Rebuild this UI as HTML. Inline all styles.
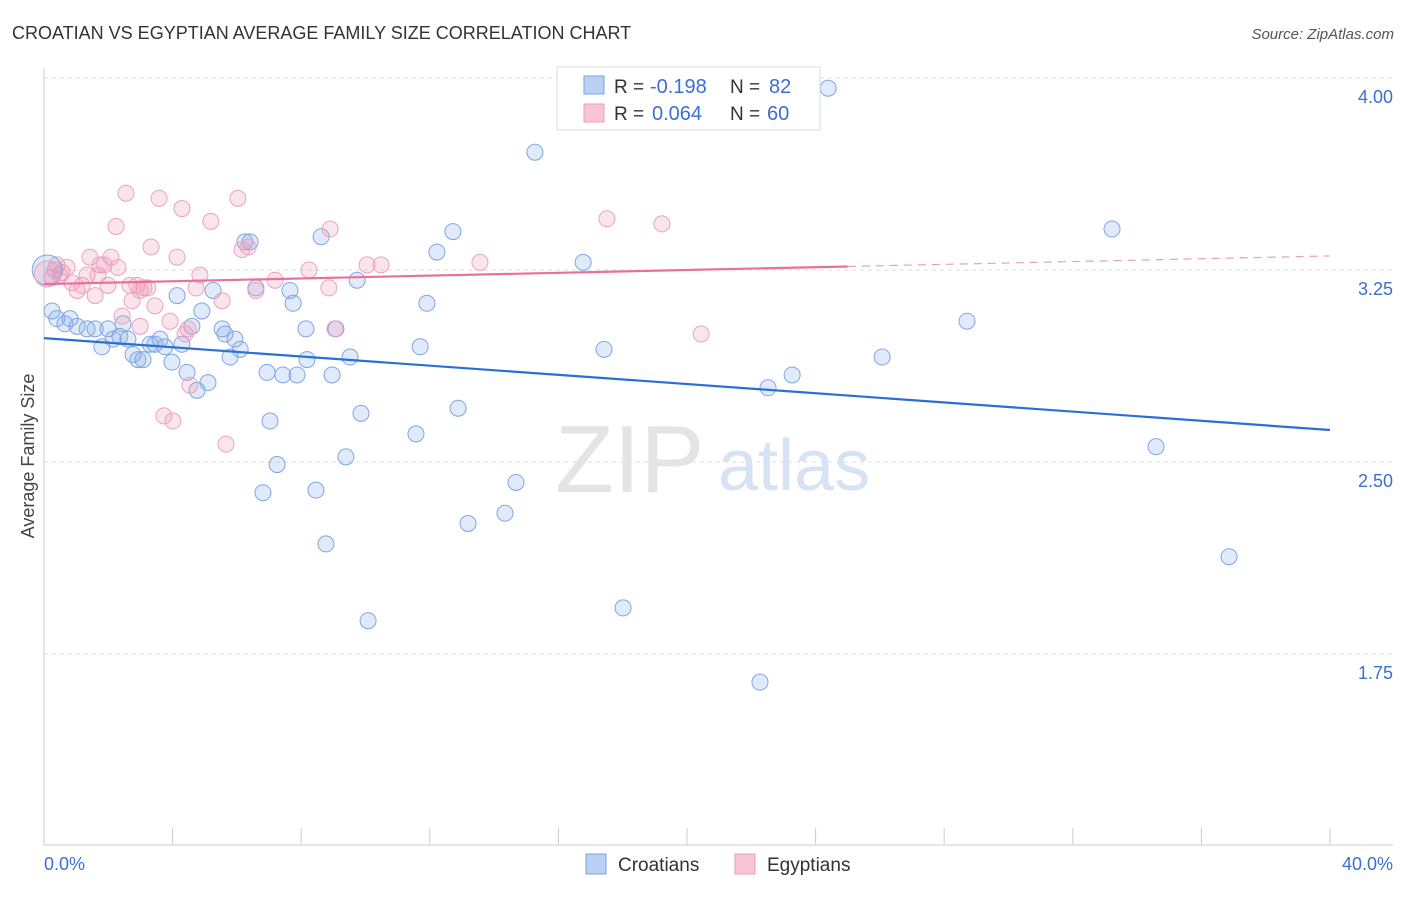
<!DOCTYPE html>
<html><head><meta charset="utf-8"><style>
body{margin:0;background:#fff;font-family:"Liberation Sans",sans-serif}
svg text{font-family:"Liberation Sans",sans-serif}
</style></head><body>
<svg id="chart" width="1406" height="892" xmlns="http://www.w3.org/2000/svg">
<text x="12" y="39" font-size="18" fill="#333">CROATIAN VS EGYPTIAN AVERAGE FAMILY SIZE CORRELATION CHART</text>
<text x="1394" y="39" font-size="15" fill="#555" text-anchor="end" font-style="italic">Source: ZipAtlas.com</text>
<g id="grid"></g>
<g>
<text x="555" y="492" font-size="96" font-family="Liberation Serif" fill="#e4e4e4">ZIP</text>
<text x="718" y="490" font-size="72" fill="#d6e3f5">atlas</text>
</g>
<g id="marks"></g>
<text transform="translate(34,456) rotate(-90)" font-size="18" fill="#444" text-anchor="middle">Average Family Size</text>
<text x="44" y="870" font-size="18" fill="#3a70d0">0.0%</text>
<text x="1393" y="870" font-size="18" fill="#3a70d0" text-anchor="end">40.0%</text>
<g>
<rect x="557" y="67" width="263" height="63" fill="#fff" stroke="#ddd"/>
<rect x="584" y="76" width="20" height="18" fill="#b9d0f3" stroke="#7aa3e0"/>
<rect x="584" y="104" width="20" height="18" fill="#f9c4d4" stroke="#e8a0b8"/>
<text x="614" y="93" font-size="19" fill="#333">R =</text>
<text x="650" y="93" font-size="20" fill="#3a70d0">-0.198</text>
<text x="730" y="93" font-size="19" fill="#333">N =</text>
<text x="769" y="93" font-size="20" fill="#3a70d0">82</text>
<text x="614" y="120" font-size="19" fill="#333">R =</text>
<text x="652" y="120" font-size="20" fill="#3a70d0">0.064</text>
<text x="730" y="120" font-size="19" fill="#333">N =</text>
<text x="767" y="120" font-size="20" fill="#3a70d0">60</text>
</g>
<g>
<rect x="586" y="854" width="20" height="20" fill="#b9d0f3" stroke="#7aa3e0"/>
<text x="618" y="871" font-size="19" fill="#333">Croatians</text>
<rect x="735" y="854" width="20" height="20" fill="#f9c4d4" stroke="#e8a0b8"/>
<text x="767" y="871" font-size="19" fill="#333">Egyptians</text>
</g>
</svg>
<script>
const yTicks=[4.00,3.25,2.50,1.75];
const yTickLabels=["4.00","3.25","2.50","1.75"];
const xTicks=[0,4,8,12,16,20,24,28,32,36,40];
const croX=[0.25,0.40,0.65,0.81,1.03,1.34,1.59,1.80,1.99,2.15,2.36,2.46,2.61,2.77,2.92,3.08,3.30,3.45,3.61,3.76,3.98,4.14,4.29,4.45,4.60,4.76,4.91,5.10,5.26,5.54,5.63,5.79,5.94,6.10,6.25,6.41,6.59,6.81,6.94,7.03,7.25,7.43,7.65,7.75,7.87,8.15,8.18,8.46,8.62,8.77,8.96,9.08,9.52,9.74,9.86,10.08,11.57,11.70,11.91,12.22,12.72,12.88,13.19,14.34,14.68,15.27,16.77,17.42,18.01,22.27,22.52,23.27,24.39,26.07,28.71,33.22,34.59,36.86,9.39];
const croY=[3.09,3.06,3.04,3.06,3.03,3.02,3.02,2.95,3.02,2.98,2.99,3.04,2.98,2.92,2.90,2.90,2.96,2.96,2.98,2.95,2.89,3.15,2.96,2.85,3.03,2.78,3.09,2.81,3.17,3.02,3.00,2.91,2.98,2.94,3.36,3.36,3.18,2.38,2.85,2.66,2.49,2.84,3.17,3.12,2.84,3.02,2.90,2.39,3.38,2.18,2.84,3.02,2.91,3.21,2.69,1.88,2.61,2.95,3.12,3.32,3.40,2.71,2.26,2.30,2.42,3.71,3.28,2.94,1.93,1.64,2.79,2.84,3.96,2.91,3.05,3.41,2.56,2.13,2.52];
const egyX=[0.25,0.40,0.56,0.72,0.87,1.03,1.18,1.34,1.43,1.59,1.74,1.87,1.99,2.08,2.24,2.30,2.43,2.55,2.67,2.74,2.89,2.99,3.11,3.23,3.33,3.45,3.58,3.73,3.92,4.01,4.14,4.29,4.39,4.48,4.54,4.73,4.85,5.19,5.54,5.66,6.03,6.16,6.35,6.59,7.19,8.24,8.90,8.86,9.05,10.05,10.48,13.56,17.51,19.22,20.44,0.50,1.68,0.34,2.99];
const egyY=[3.22,3.27,3.24,3.26,3.20,3.17,3.19,3.23,3.30,3.15,3.27,3.27,3.19,3.30,3.42,3.26,3.07,3.55,3.19,3.13,3.19,3.03,3.18,3.18,3.34,3.11,3.53,2.68,3.05,2.66,3.30,3.49,3.00,3.02,2.80,3.18,3.23,3.44,3.13,2.57,3.53,3.33,3.34,3.17,3.21,3.25,3.41,3.18,3.02,3.27,3.27,3.28,3.45,3.43,3.00,3.23,3.23,3.25,3.17];
const croTrend=[2.984,2.625];
const egyTrend=[3.195,3.305];
const egySolidEnd=25;
const bigX=[0.1],bigCroY=[3.25],bigEgyY=[3.235];
const NS="http://www.w3.org/2000/svg";
const X=v=>44+v/40*1286, Y=v=>78+(4-v)*256;
const grid=document.getElementById('grid'),marks=document.getElementById('marks');
function mk(p,tag,a){const e=document.createElementNS(NS,tag);for(const k in a)e.setAttribute(k,a[k]);p.appendChild(e);return e;}
let ax=mk(grid,'line',{x1:44,y1:68,x2:44,y2:845,stroke:'#ccc'});


let bx=mk(grid,'line',{x1:44,y1:845,x2:1393,y2:845,stroke:'#ccc'});


yTicks.forEach((t,i)=>{
 const g=mk(grid,'line',{x1:44,x2:1393,y1:Y(t),y2:Y(t),stroke:'#ddd','stroke-dasharray':'4,4'});
 
 
 const l=mk(grid,'text',{x:1393,y:Y(t)+25,'font-size':18,fill:'#3a70d0','text-anchor':'end'});
 l.textContent=yTickLabels[i];
 
 
});
xTicks.forEach(t=>{
 const g=mk(grid,'line',{x1:X(t),x2:X(t),y1:828,y2:845,stroke:'#ccc'});
 
 
});
function pts(xs,ys,fill,stroke,name,r){xs.forEach((x,i)=>{
 const c=mk(marks,'circle',{cx:X(x),cy:Y(ys[i]),r:r,fill:fill,stroke:stroke,'stroke-width':1});
 
 
});}
pts(croX,croY,'rgba(130,170,235,0.25)','#7fa6e2','croatian-point',8);
pts(egyX,egyY,'rgba(240,150,185,0.25)','#eaa3bd','egyptian-point',8);
pts(bigX,bigCroY,'rgba(130,170,235,0.25)','#7fa6e2','croatian-point',15);
pts(bigX,bigEgyY,'rgba(240,150,185,0.25)','#eaa3bd','egyptian-point',13);
let cl=mk(marks,'line',{x1:X(0),y1:Y(croTrend[0]),x2:X(40),y2:Y(croTrend[1]),stroke:'#2a6fd6','stroke-width':2.2});


const ey=x=>egyTrend[0]+(egyTrend[1]-egyTrend[0])*x/40;
let el=mk(marks,'line',{x1:X(0),y1:Y(ey(0)),x2:X(egySolidEnd),y2:Y(ey(egySolidEnd)),stroke:'#e8709a','stroke-width':2.2});


let ed=mk(marks,'line',{x1:X(egySolidEnd),y1:Y(ey(egySolidEnd)),x2:X(40),y2:Y(ey(40)),stroke:'#e8a0b8','stroke-width':1.2,'stroke-dasharray':'8,6'});


</script>
</body></html>
